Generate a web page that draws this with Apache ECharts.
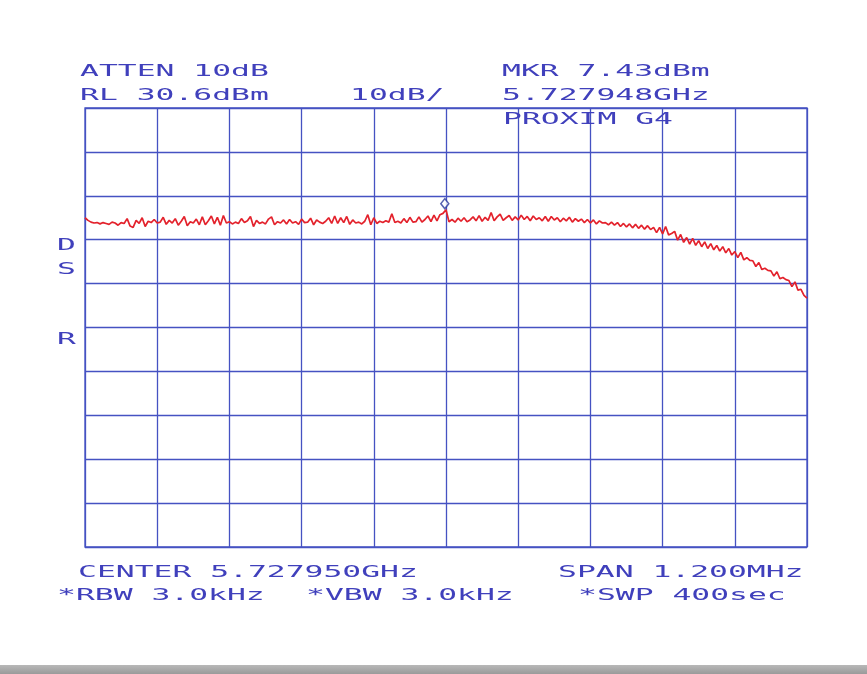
<!DOCTYPE html>
<html>
<head>
<meta charset="utf-8">
<script src="https://cdn.jsdelivr.net/npm/echarts@6/dist/echarts.min.js"></script>
<style>
  html, body { margin: 0; padding: 0; background: #ffffff; }
  #chart { width: 867px; height: 674px; }
</style>
</head>
<body>
<div id="chart"></div>
<script>
// Analyzer settings
const centerFreqGHz = 5.727950;
const spanMHz = 1.2;
const refLevelDbm = 30.6;
const dbPerDiv = 10;
const attenDb = 10;
const markerFreqGHz = 5.727948;
const markerLevelDbm = 7.43;

// Trace levels in dBm, one per sweep point across the span
const traceLevels = [
  5.6, 5.0, 4.6, 4.4, 4.5, 4.2, 4.5, 4.3, 4.1, 4.6,
  4.4, 3.9, 4.5, 4.3, 5.4, 3.7, 3.4, 5.0, 4.3, 5.6,
  3.6, 4.8, 4.5, 5.2, 4.4, 4.6, 5.7, 4.1, 5.0, 4.4,
  5.4, 3.9, 4.8, 5.9, 3.8, 4.7, 4.4, 5.3, 4.0, 5.8,
  4.0, 4.9, 6.0, 4.2, 5.7, 3.9, 6.1, 4.4, 4.7, 4.2,
  4.6, 4.3, 5.4, 4.5, 4.9, 5.9, 3.6, 5.0, 4.3, 4.6,
  4.2, 5.3, 5.8, 4.0, 4.7, 4.4, 5.1, 4.2, 5.2, 4.4,
  4.7, 4.1, 5.3, 4.5, 4.6, 5.5, 4.0, 5.1, 4.6, 4.3,
  4.8, 5.6, 4.3, 6.0, 4.3, 5.6, 4.5, 5.9, 4.1, 5.1,
  4.4, 4.6, 4.2, 4.8, 6.3, 4.0, 5.6, 4.3, 4.8, 4.5,
  4.9, 4.6, 6.5, 4.5, 4.8, 4.4, 5.4, 4.5, 5.7, 4.6,
  4.7, 5.8, 4.6, 5.2, 6.0, 4.7, 6.2, 4.9, 6.3, 6.6,
  7.43, 4.7, 5.2, 4.6, 5.5, 4.8, 5.6, 4.7, 5.1, 5.8,
  4.9, 6.1, 4.8, 5.7, 5.0, 6.8, 4.9, 5.8, 6.4, 5.0,
  5.6, 6.1, 5.0, 5.8, 5.1, 6.2, 5.2, 5.9, 4.9, 6.0,
  5.2, 5.6, 4.9, 5.9, 4.8, 5.9, 5.1, 5.6, 4.7, 5.5,
  4.9, 5.7, 4.6, 5.4, 4.8, 5.3, 4.5, 5.2, 4.4, 5.1,
  4.2, 4.9, 4.4, 4.5, 4.0, 4.6, 3.9, 4.5, 3.6, 4.3,
  3.5, 4.2, 3.3, 4.1, 3.2, 3.9, 3.0, 3.8, 2.9, 3.4,
  2.2, 3.4, 1.9, 3.6, 1.7, 2.0, 2.5, 0.5, 1.8, 0.0,
  1.1, -0.4, 0.9, -0.7, 0.4, -1.0, 0.1, -1.4, -0.3, -1.7,
  -0.7, -2.0, -1.0, -2.4, -1.4, -2.9, -2.1, -3.5, -2.3, -4.0,
  -3.5, -4.1, -4.2, -5.5, -4.6, -6.2, -5.9, -6.4, -6.5, -7.7,
  -6.7, -8.3, -8.0, -8.5, -8.7, -10.1, -9.0, -10.9, -10.7, -12.1,
  -12.7
];

// Annotation texts printed around the graticule
const headerLeft = ['ATTEN ' + attenDb + 'dB', 'RL ' + refLevelDbm.toFixed(1) + 'dBm'];
const scaleText = dbPerDiv + 'dB/';
const headerRight = ['MKR ' + markerLevelDbm.toFixed(2) + 'dBm', markerFreqGHz.toFixed(6) + 'GHz', 'PROXIM G4'];
const sideLetters = ['D', 'S', 'R'];
const footerTexts = ['CENTER ' + centerFreqGHz.toFixed(6) + 'GHz', 'SPAN ' + spanMHz.toFixed(3) + 'MHz'];
const bandwidthTexts = ['*RBW 3.0kHz', '*VBW 3.0kHz', '*SWP 400sec'];

// Horizontal axis: offset from center in kHz; vertical axis: dB relative to reference level
const halfSpanKHz = spanMHz * 1000 / 2;
const divKHz = spanMHz * 1000 / 10;
const stepKHz = spanMHz * 1000 / (traceLevels.length - 1);
const traceData = traceLevels.map((v, i) => [-halfSpanKHz + i * stepKHz, +(v - refLevelDbm).toFixed(2)]);
const markerData = [[Math.round((markerFreqGHz - centerFreqGHz) * 1e6), +(markerLevelDbm - refLevelDbm).toFixed(2)]];

const ink = '#4040bc';
const gridBlue = '#4552c2';
const penFont = '16px "DejaVu Sans Mono", monospace';
const stretch = 1.96;

function label(text, x, y) {
  return {
    type: 'text', x: x, y: y, scaleX: stretch, silent: true, z: 10,
    style: { text: text, x: 0, y: 0, font: penFont, fill: ink, textVerticalAlign: 'middle', textAlign: 'left' }
  };
}

const chart = echarts.init(document.getElementById('chart'), null, { renderer: 'canvas' });
chart.setOption({
  animation: false,
  backgroundColor: '#ffffff',
  grid: { left: 85, right: 60, top: 108, bottom: 127, show: true, borderColor: gridBlue, borderWidth: 1.3, backgroundColor: 'transparent' },
  xAxis: {
    type: 'value', min: -halfSpanKHz, max: halfSpanKHz, interval: divKHz,
    axisLine: { show: false }, axisTick: { show: false }, axisLabel: { show: false },
    splitLine: { show: true, lineStyle: { color: gridBlue, width: 1.3 } }
  },
  yAxis: {
    type: 'value', min: -10 * dbPerDiv, max: 0, interval: dbPerDiv,
    axisLine: { show: false }, axisTick: { show: false }, axisLabel: { show: false },
    splitLine: { show: true, lineStyle: { color: gridBlue, width: 1.3 } }
  },
  series: [
    {
      type: 'line', data: traceData, showSymbol: false, symbol: 'none',
      lineStyle: { color: '#e3222c', width: 1.7 }, z: 3
    },
    {
      type: 'scatter', data: markerData, symbol: 'diamond', symbolSize: [8, 10], symbolOffset: [0, -6],
      itemStyle: { color: '#ffffff', borderColor: '#2c3a9c', borderWidth: 1.5 }, z: 5
    }
  ],
  graphic: [
    label(headerLeft[0], 80, 72),
    label(headerLeft[1], 80, 96),
    label(scaleText, 350, 96),
    label(headerRight[0], 502, 72),
    label(headerRight[1], 502, 96),
    label(headerRight[2], 503, 120),
    label(sideLetters[0], 57, 246),
    label(sideLetters[1], 57, 270),
    label(sideLetters[2], 57, 340),
    label(footerTexts[0], 78, 573),
    label(footerTexts[1], 558, 573),
    label(bandwidthTexts[0], 57, 596),
    label(bandwidthTexts[1], 306, 596),
    label(bandwidthTexts[2], 578, 596),
    {
      type: 'rect', silent: true, z: 1,
      shape: { x: 0, y: 665, width: 867, height: 9 },
      style: { fill: new echarts.graphic.LinearGradient(0, 0, 0, 1, [
        { offset: 0, color: '#b8b8b8' }, { offset: 1, color: '#9a9a9a' }
      ]) }
    }
  ]
});
</script>
</body>
</html>
